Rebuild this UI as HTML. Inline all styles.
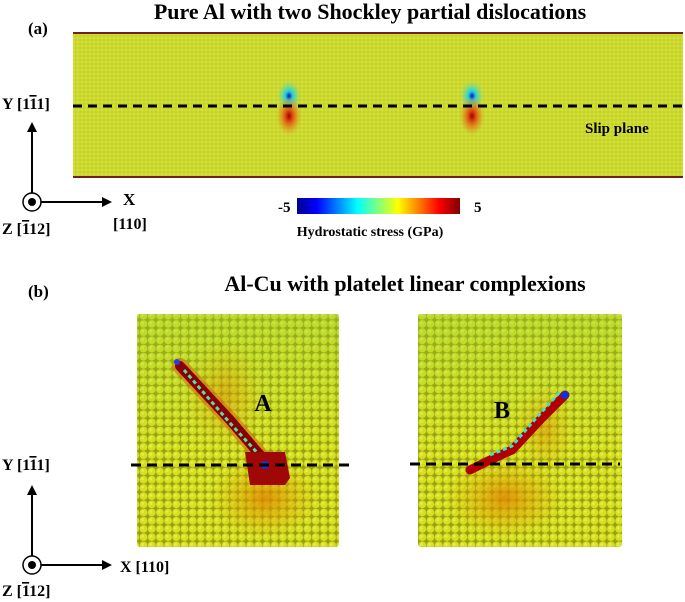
<!DOCTYPE html>
<html><head><meta charset="utf-8"><style>
body{margin:0;background:#fff}
svg{display:block;font-family:"Liberation Serif",serif;font-weight:bold}
</style></head><body>
<svg width="685" height="602" viewBox="0 0 685 602">
<defs>
<pattern id="fine" width="4" height="4" patternUnits="userSpaceOnUse"><rect width="4" height="4" fill="#c4d428"/><circle cx="2" cy="2" r="1.5" fill="#d6e03c"/></pattern>
<pattern id="atoms" width="8.2" height="8.2" patternUnits="userSpaceOnUse"><rect width="8.2" height="8.2" fill="#9aa010"/><circle cx="4.1" cy="4.1" r="3.9" fill="#d4e020"/><circle cx="3.2" cy="3.2" r="1.5" fill="#eef060" opacity="0.7"/></pattern>
<radialGradient id="blue"><stop offset="0" stop-color="#0010c0"/><stop offset="0.3" stop-color="#20d0e0"/><stop offset="1" stop-color="#80e080" stop-opacity="0"/></radialGradient>
<radialGradient id="red"><stop offset="0" stop-color="#a00000"/><stop offset="0.3" stop-color="#e05010"/><stop offset="1" stop-color="#e0a020" stop-opacity="0"/></radialGradient>
<radialGradient id="orange"><stop offset="0" stop-color="#e08000" stop-opacity="0.8"/><stop offset="1" stop-color="#e0b000" stop-opacity="0"/></radialGradient>
<linearGradient id="greentop" x1="0" y1="0" x2="0" y2="1"><stop offset="0" stop-color="#90d040" stop-opacity="0.35"/><stop offset="0.6" stop-color="#90d040" stop-opacity="0"/></linearGradient>
<linearGradient id="cbar" x1="0" x2="1"><stop offset="0" stop-color="#00008f"/><stop offset="0.12" stop-color="#0000ff"/><stop offset="0.37" stop-color="#00ffff"/><stop offset="0.62" stop-color="#ffff00"/><stop offset="0.87" stop-color="#ff0000"/><stop offset="1" stop-color="#800000"/></linearGradient>
</defs>

<text x="370" y="19" font-size="22" text-anchor="middle">Pure Al with two Shockley partial dislocations</text>
<text x="28" y="34" font-size="17">(a)</text>
<g>
<rect x="73" y="32" width="610" height="146" fill="url(#fine)"/>
<rect x="73" y="32" width="610" height="2" fill="#702020"/>
<rect x="73" y="176" width="610" height="2" fill="#702020"/>
<ellipse cx="289" cy="96" rx="12" ry="16" fill="url(#blue)"/>
<ellipse cx="289" cy="116" rx="13" ry="20" fill="url(#red)"/>
<ellipse cx="472" cy="96" rx="12" ry="16" fill="url(#blue)"/>
<ellipse cx="472" cy="116" rx="13" ry="20" fill="url(#red)"/>
</g>
<line x1="73" y1="106" x2="683" y2="106" stroke="#000" stroke-width="3" stroke-dasharray="9,6"/>
<text x="585" y="133" font-size="15">Slip plane</text>

<g>
<text x="2" y="109" font-size="16">Y [1<tspan text-decoration="overline">1</tspan>1]</text>
<line x1="32" y1="202" x2="32" y2="130" stroke="#000" stroke-width="2"/><polygon points="27,132 37,132 32,122" fill="#000"/>
<line x1="32" y1="202" x2="104" y2="202" stroke="#000" stroke-width="2"/><polygon points="102,197 102,207 112,202" fill="#000"/>
<circle cx="32" cy="202" r="9" fill="#fff" stroke="#000" stroke-width="1.5"/><circle cx="32" cy="202" r="4" fill="#000"/>
<text x="123" y="205" font-size="17">X</text>
<text x="113" y="229" font-size="16">[110]</text>
<text x="2" y="234" font-size="16">Z [<tspan text-decoration="overline">1</tspan>12]</text>
</g>

<g>
<rect x="297" y="198" width="163" height="16" fill="url(#cbar)"/>
<text x="278" y="212" font-size="15">-5</text>
<text x="474" y="212" font-size="15">5</text>
<text x="370" y="236" font-size="14" text-anchor="middle">Hydrostatic stress (GPa)</text>
</g>

<text x="405" y="291" font-size="22" text-anchor="middle">Al-Cu with platelet linear complexions</text>
<text x="28" y="297" font-size="17">(b)</text>

<g>
<rect x="137" y="314" width="202" height="233" rx="3" fill="url(#atoms)"/>
<rect x="137" y="314" width="202" height="233" fill="url(#greentop)"/>
<ellipse cx="265" cy="498" rx="55" ry="42" fill="url(#orange)"/>
<ellipse cx="225" cy="395" rx="40" ry="55" fill="url(#orange)" opacity="0.6"/>
<polyline points="180,366 230,420 260,455 275,472" fill="none" stroke="#d07010" stroke-width="16" stroke-linecap="round" opacity="0.6"/>
<polyline points="180,366 230,420 260,455 275,472" fill="none" stroke="#8a0000" stroke-width="10" stroke-linecap="round"/>
<polyline points="184,370 230,423 262,458" fill="none" stroke="#50e0b0" stroke-width="3" stroke-dasharray="4,3"/>
<path d="M245,452 L285,452 L290,478 L285,485 L250,485 Z" fill="#a00808"/>
<circle cx="265" cy="465" r="4" fill="#1030e0"/><circle cx="177" cy="362" r="3" fill="#2040e0"/>
<text x="263" y="411" font-size="24" text-anchor="middle">A</text>
</g>
<g>
<rect x="418" y="314" width="204" height="233" rx="3" fill="url(#atoms)"/>
<rect x="418" y="314" width="204" height="233" fill="url(#greentop)"/>
<ellipse cx="505" cy="498" rx="60" ry="42" fill="url(#orange)"/>
<ellipse cx="545" cy="430" rx="30" ry="45" fill="url(#orange)" opacity="0.6"/>
<polyline points="470,470 490,460 512,450 540,420 565,395" fill="none" stroke="#b00000" stroke-width="9" stroke-linecap="round"/>
<polyline points="490,455 512,446 538,416 560,392" fill="none" stroke="#40e0d0" stroke-width="3" stroke-dasharray="4,3"/>
<circle cx="565" cy="395" r="4" fill="#1030e0"/>
<text x="502" y="418" font-size="24" text-anchor="middle">B</text>
</g>
<line x1="131" y1="465" x2="350" y2="465" stroke="#000" stroke-width="3" stroke-dasharray="10,6"/>
<line x1="410" y1="464" x2="620" y2="464" stroke="#000" stroke-width="3" stroke-dasharray="10,6"/>

<g>
<text x="2" y="470" font-size="16">Y [1<tspan text-decoration="overline">1</tspan>1]</text>
<line x1="32" y1="565" x2="32" y2="493" stroke="#000" stroke-width="2"/><polygon points="27,495 37,495 32,485" fill="#000"/>
<line x1="32" y1="565" x2="104" y2="565" stroke="#000" stroke-width="2"/><polygon points="102,560 102,570 112,565" fill="#000"/>
<circle cx="32" cy="565" r="9" fill="#fff" stroke="#000" stroke-width="1.5"/><circle cx="32" cy="565" r="4" fill="#000"/>
<text x="120" y="572" font-size="16">X [110]</text>
<text x="2" y="596" font-size="16">Z [<tspan text-decoration="overline">1</tspan>12]</text>
</g>
</svg>
</body></html>
